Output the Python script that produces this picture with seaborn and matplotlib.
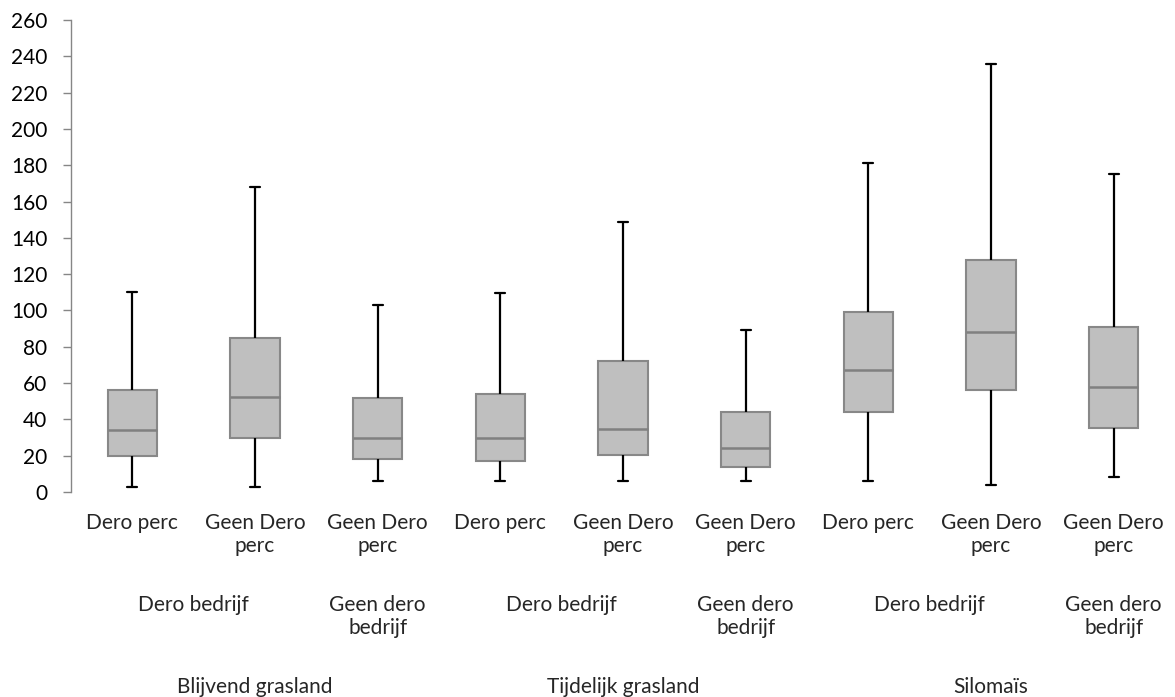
import numpy as np
import pandas as pd
import matplotlib
matplotlib.use("Agg")
import matplotlib.pyplot as plt
import seaborn as sns

# Five-number summaries per group (min, Q1, median, Q3, max)
groups = ["g1", "g2", "g3", "g4", "g5", "g6", "g7", "g8", "g9"]
mins = [3, 3, 6, 6, 6, 6, 6, 4, 8]
q1s = [20, 30, 18, 17, 20.5, 14, 44, 56, 35]
medians = [34, 52.5, 30, 30, 34.5, 24, 67, 88, 58]
q3s = [56, 85, 52, 54, 72, 44, 99, 128, 91]
maxs = [110, 168, 103, 109.5, 148.5, 89, 181.5, 235.5, 175]

perc_labels = ["Dero perc", "Geen Dero\nperc", "Geen Dero\nperc",
               "Dero perc", "Geen Dero\nperc", "Geen Dero\nperc",
               "Dero perc", "Geen Dero\nperc", "Geen Dero\nperc"]
bedrijf_labels = ["Dero bedrijf", "Geen dero\nbedrijf",
                  "Dero bedrijf", "Geen dero\nbedrijf",
                  "Dero bedrijf", "Geen dero\nbedrijf"]
bedrijf_spans = [(0, 1), (2, 2), (3, 4), (5, 5), (6, 7), (8, 8)]
crop_labels = ["Blijvend grasland", "Tijdelijk grasland", "Silomaïs"]
crop_spans = [(0, 2), (3, 5), (6, 8)]

# Long-form table: five values per group reproduce the quartiles exactly
rows = []
for g, a, b, c, d, e in zip(groups, mins, q1s, medians, q3s, maxs):
    for v in (a, b, c, d, e):
        rows.append({"group": g, "value": v})
df = pd.DataFrame(rows)

sns.set_style("white")
plt.rcParams["font.family"] = ["Lato", "DejaVu Sans"]

fig = plt.figure(figsize=(11.75, 6.97), dpi=100)
ax = fig.add_axes([71 / 1175, 205 / 697, 1 - 71 / 1175, 472 / 697])

sns.boxplot(
    data=df, x="group", y="value", order=groups, ax=ax,
    whis=(0, 100), width=0.4, color="#BFBFBF", fliersize=0,
    linewidth=1.5, linecolor="#888888",
    boxprops=dict(facecolor="#BFBFBF", edgecolor="#888888", linewidth=1.5),
    medianprops=dict(color="#808080", linewidth=1.8),
    whiskerprops=dict(color="black", linewidth=1.6),
    capprops=dict(color="black", linewidth=1.6),
    capwidths=0.08,
)

ax.set_xlim(-0.5, 8.5)
ax.set_ylim(0, 260)
ax.set_yticks(np.arange(0, 261, 20))
ax.tick_params(axis="y", which="major", length=6, width=1, color="#868686",
               labelsize=15, labelcolor="black", pad=11, left=True)
ax.set_xticks([])
ax.set_xlabel("")
ax.set_ylabel("")
for side in ("top", "right", "bottom"):
    ax.spines[side].set_visible(False)
ax.spines["left"].set_color("#868686")
ax.spines["left"].set_linewidth(1)

trans = ax.get_xaxis_transform()
fs = 15
ls = 1.18
for i, lab in enumerate(perc_labels):
    ax.annotate(lab, xy=(i, 0), xycoords=trans, xytext=(0, -21),
                textcoords="offset pixels", ha="center", va="top",
                fontsize=fs, linespacing=ls, multialignment="center")
for (a, b), lab in zip(bedrijf_spans, bedrijf_labels):
    ax.annotate(lab, xy=((a + b) / 2, 0), xycoords=trans, xytext=(0, -103),
                textcoords="offset pixels", ha="center", va="top",
                fontsize=fs, linespacing=ls, multialignment="center")
for (a, b), lab in zip(crop_spans, crop_labels):
    ax.annotate(lab, xy=((a + b) / 2, 0), xycoords=trans, xytext=(0, -185),
                textcoords="offset pixels", ha="center", va="top",
                fontsize=fs, linespacing=ls)

fig.savefig("out.png", dpi=100)
